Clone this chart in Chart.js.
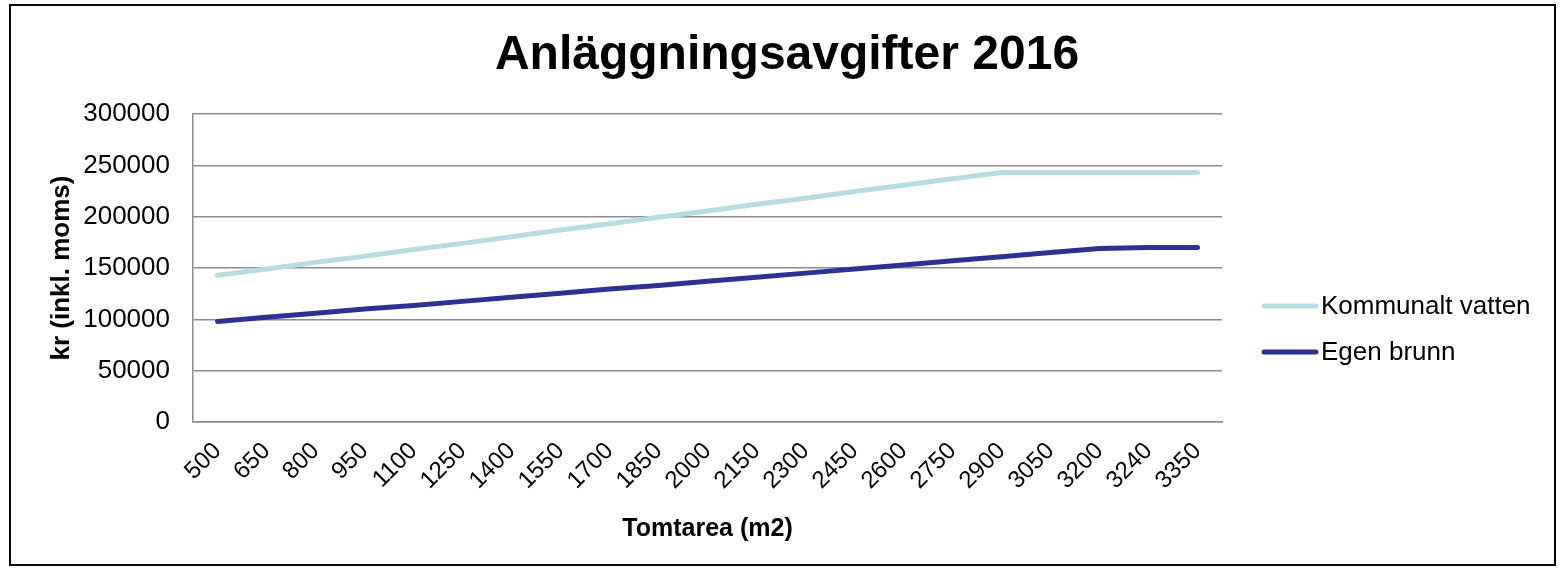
<!DOCTYPE html>
<html>
<head>
<meta charset="utf-8">
<script src="https://cdn.jsdelivr.net/npm/chart.js@4"></script>
<style>
    html, body { margin: 0; padding: 0; background: #ffffff; }
    #wrap { position: absolute; left: 0; top: 0; width: 1559px; height: 568px; }
</style>
</head>
<body>
<div id="wrap"><canvas id="feeChart"></canvas></div>
<script>
// Tomtarea (m2)
const areas = ['500', '650', '800', '950', '1100', '1250', '1400', '1550', '1700', '1850', '2000',
    '2150', '2300', '2450', '2600', '2750', '2900', '3050', '3200', '3240', '3350'];

// kr (inkl. moms)
const kommunaltVatten = [143000, 149000, 155500, 161500, 168000, 174000, 180500, 187000, 193000, 199500, 205500,
    212000, 218000, 224500, 230500, 237000, 243000, 243000, 243000, 243000, 243000];
const egenBrunn = [98000, 102000, 106000, 110000, 113500, 117500, 121500, 125500, 129500, 133000, 137000,
    141000, 145000, 149000, 153000, 157000, 161000, 165000, 169000, 170000, 170000];

const yTicks = [0, 50000, 100000, 150000, 200000, 250000, 300000];

const chartTitle = 'Anläggningsavgifter 2016';

const FONT = '"Liberation Sans", Arial, sans-serif';
const GRID = '#8c8c8c';

// outer frame, title and legend drawn by hand (title is centred on the whole frame)
const framePlugin = {
    id: 'frame',
    afterDraw(chart) {
        const ctx = chart.ctx;
        ctx.save();
        ctx.strokeStyle = '#000000';
        ctx.lineWidth = 2;
        ctx.strokeRect(10, 5, 1545, 560);

        ctx.fillStyle = '#000000';
        ctx.font = 'bold 48px ' + FONT;
        ctx.textAlign = 'center';
        ctx.textBaseline = 'middle';
        ctx.fillText(chartTitle, 787, 56);

        ctx.font = '26px ' + FONT;
        ctx.textAlign = 'left';
        ctx.lineCap = 'round';
        chart.data.datasets.forEach(function(ds, i) {
            const y = 306 + i * 46;
            ctx.strokeStyle = ds.borderColor;
            ctx.lineWidth = 5;
            ctx.beginPath();
            ctx.moveTo(1264, y);
            ctx.lineTo(1316, y);
            ctx.stroke();
            ctx.fillStyle = '#000000';
            ctx.fillText(ds.label, 1321, y + 1);
        });
        ctx.restore();
    }
};

const ctx = document.getElementById('feeChart').getContext('2d');
const chart = new Chart(ctx, {
    type: 'line',
    data: {
        labels: areas,
        datasets: [{
            label: 'Kommunalt vatten',
            data: kommunaltVatten,
            borderColor: '#b8dde0',
            borderWidth: 5,
            borderCapStyle: 'round',
            borderJoinStyle: 'round',
            pointRadius: 0,
            tension: 0
        }, {
            label: 'Egen brunn',
            data: egenBrunn,
            borderColor: '#2e3192',
            borderWidth: 5,
            borderCapStyle: 'round',
            borderJoinStyle: 'round',
            pointRadius: 0,
            tension: 0
        }]
    },
    options: {
        responsive: true,
        maintainAspectRatio: false,
        animation: false,
        layout: {
            padding: { left: 0, right: 337, top: 114, bottom: 0 }
        },
        scales: {
            x: {
                offset: true,
                grid: { display: false, drawTicks: false },
                border: { display: true, color: GRID, width: 1.5 },
                ticks: {
                    color: '#000000',
                    font: { family: FONT, size: 24 },
                    minRotation: 45,
                    maxRotation: 45,
                    autoSkip: false,
                    padding: 15
                },
                title: {
                    display: true,
                    text: 'Tomtarea (m2)',
                    color: '#000000',
                    font: { family: FONT, size: 25, weight: 'bold' },
                    padding: { top: 0, bottom: 24 }
                },
                afterFit: function(scale) { scale.height = 146; }
            },
            y: {
                min: 0,
                max: 300000,
                afterBuildTicks: function(scale) {
                    scale.ticks = yTicks.map(function(v) { return { value: v }; });
                },
                grid: { color: GRID, lineWidth: 1.5, drawTicks: false },
                border: { display: true, color: GRID, width: 1.5 },
                ticks: {
                    color: '#000000',
                    font: { family: FONT, size: 26 },
                    padding: 23,
                    callback: function(v) { return String(v); }
                },
                title: {
                    display: true,
                    text: 'kr (inkl. moms)',
                    color: '#000000',
                    font: { family: FONT, size: 26, weight: 'bold' },
                    padding: { top: 46, bottom: 0 }
                },
                afterFit: function(scale) { scale.width = 193; }
            }
        },
        plugins: {
            legend: { display: false },
            tooltip: { enabled: false },
            title: { display: false }
        }
    },
    plugins: [framePlugin]
});
</script>
</body>
</html>
